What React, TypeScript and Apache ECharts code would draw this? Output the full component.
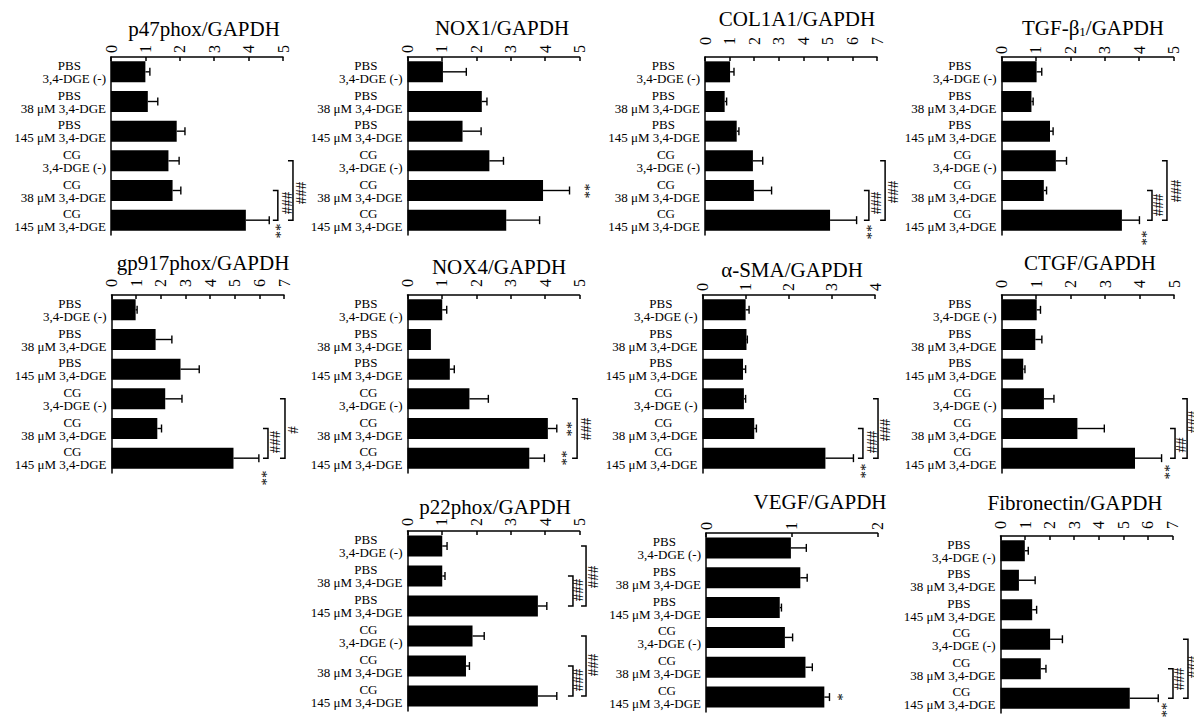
import React, { useEffect, useRef } from 'react';
import * as echarts from 'echarts';

const FONT = "'Liberation Serif', 'Times New Roman', serif";

// ---- categories ----
const groups = ['PBS', 'PBS', 'PBS', 'CG', 'CG', 'CG'];
const doses = ['3,4-DGE (-)', '38 μM 3,4-DGE', '145 μM 3,4-DGE', '3,4-DGE (-)', '38 μM 3,4-DGE', '145 μM 3,4-DGE'];
const categories = groups.map((g, i) => `${g}\n${doses[i]}`);

// ---- values (mean, SEM) ----
const p47phoxMean = [1.0, 1.07, 1.91, 1.67, 1.79, 3.92];
const p47phoxSem = [0.13, 0.29, 0.24, 0.31, 0.24, 0.68];
const nox1Mean = [1.03, 2.16, 1.6, 2.38, 3.94, 2.87];
const nox1Sem = [0.68, 0.15, 0.54, 0.41, 0.77, 0.97];
const col1a1Mean = [1.02, 0.8, 1.29, 1.95, 1.99, 5.09];
const col1a1Sem = [0.16, 0.08, 0.09, 0.4, 0.72, 1.08];
const tgfMean = [1.02, 0.87, 1.41, 1.58, 1.23, 3.5];
const tgfSem = [0.15, 0.05, 0.09, 0.31, 0.08, 0.51];
const gp917Mean = [0.98, 1.79, 2.8, 2.18, 1.86, 4.95];
const gp917Sem = [0.06, 0.66, 0.76, 0.68, 0.17, 1.03];
const nox4Mean = [1.01, 0.68, 1.23, 1.8, 4.08, 3.54];
const nox4Sem = [0.13, 0, 0.13, 0.55, 0.26, 0.44];
const asmaMean = [1.0, 1.02, 0.94, 0.96, 1.2, 2.85];
const asmaSem = [0.08, 0.02, 0.06, 0.04, 0.05, 0.65];
const ctgfMean = [1.02, 0.98, 0.63, 1.23, 2.2, 3.87];
const ctgfSem = [0.11, 0.19, 0.05, 0.29, 0.78, 0.77];
const p22phoxMean = [1.01, 1.01, 3.79, 1.89, 1.7, 3.79];
const p22phoxSem = [0.14, 0.08, 0.26, 0.34, 0.1, 0.55];
const vegfMean = [0.99, 1.1, 0.86, 0.92, 1.16, 1.38];
const vegfSem = [0.18, 0.08, 0.02, 0.09, 0.08, 0.06];
const fibroMean = [0.99, 0.75, 1.29, 2.02, 1.64, 5.26];
const fibroSem = [0.14, 0.66, 0.18, 0.5, 0.21, 1.16];

// ---- axis maxima ----
const axisMax = [5, 5, 7, 5, 7, 5, 4, 5, 5, 2, 7];

// ---- significance: brackets [x value, from category, to category] ----
const p47phoxBrackets = [[4.85, 4, 5], [5.29, 3, 5]];
const nox1Brackets: number[][] = [];
const col1a1Brackets = [[6.67, 4, 5], [7.33, 3, 5]];
const tgfBrackets = [[4.375, 4, 5], [4.81, 3, 5]];
const gp917Brackets = [[6.35, 4, 5], [7.04, 3, 5]];
const nox4Brackets = [[4.93, 3, 5]];
const asmaBrackets = [[3.72, 4, 5], [4.07, 3, 5]];
const ctgfBrackets = [[5.03, 4, 5], [5.38, 3, 5]];
const p22phoxBrackets = [[4.81, 1, 2], [5.19, 0, 2], [4.81, 4, 5], [5.19, 3, 5]];
const vegfBrackets: number[][] = [];
const fibroBrackets = [[7.02, 4, 5], [7.63, 3, 5]];

// ---- significance marks [x value, category position, text] ----
type Mark = [number, number, string];
const p47phoxMarks: Mark[] = [[4.8, 5.36, '**'], [5.12, 4.42, '###'], [5.52, 4.08, '###']];
const nox1Marks: Mark[] = [[5.16, 4.0, '**']];
const col1a1Marks: Mark[] = [[6.59, 5.4, '**'], [6.96, 4.42, '###'], [7.65, 4.05, '###']];
const tgfMarks: Mark[] = [[4.08, 5.6, '**'], [4.55, 4.49, '###'], [5.07, 4.02, '###']];
const gp917Marks: Mark[] = [[6.11, 5.67, '**'], [6.64, 4.45, '###'], [7.37, 4.05, '#']];
const nox4Marks: Mark[] = [[4.64, 4.0, '**'], [4.49, 5.0, '**'], [5.19, 4.0, '###']];
const asmaMarks: Mark[] = [[3.68, 5.43, '**'], [3.93, 4.45, '###'], [4.23, 4.05, '###']];
const ctgfMarks: Mark[] = [[4.74, 5.47, '**'], [5.2, 4.56, '##'], [5.55, 3.78, '###']];
const p22phoxMarks: Mark[] = [[4.96, 1.47, '###'], [5.39, 1.03, '###'], [4.96, 4.47, '###'], [5.39, 3.97, '###']];
const vegfMarks: Mark[] = [[1.54, 5.0, '*']];
const fibroMarks: Mark[] = [[6.57, 5.4, '**'], [7.27, 4.35, '###'], [7.83, 3.94, '###']];

const titles = ['p47phox/GAPDH', 'NOX1/GAPDH', 'COL1A1/GAPDH', 'TGF-β{s|1}/GAPDH', 'gp917phox/GAPDH', 'NOX4/GAPDH', 'α-SMA/GAPDH', 'CTGF/GAPDH', 'p22phox/GAPDH', 'VEGF/GAPDH', 'Fibronectin/GAPDH'];

const panels = [
  { mean: p47phoxMean, sem: p47phoxSem, br: p47phoxBrackets, mk: p47phoxMarks },
  { mean: nox1Mean, sem: nox1Sem, br: nox1Brackets, mk: nox1Marks },
  { mean: col1a1Mean, sem: col1a1Sem, br: col1a1Brackets, mk: col1a1Marks },
  { mean: tgfMean, sem: tgfSem, br: tgfBrackets, mk: tgfMarks },
  { mean: gp917Mean, sem: gp917Sem, br: gp917Brackets, mk: gp917Marks },
  { mean: nox4Mean, sem: nox4Sem, br: nox4Brackets, mk: nox4Marks },
  { mean: asmaMean, sem: asmaSem, br: asmaBrackets, mk: asmaMarks },
  { mean: ctgfMean, sem: ctgfSem, br: ctgfBrackets, mk: ctgfMarks },
  { mean: p22phoxMean, sem: p22phoxSem, br: p22phoxBrackets, mk: p22phoxMarks },
  { mean: vegfMean, sem: vegfSem, br: vegfBrackets, mk: vegfMarks },
  { mean: fibroMean, sem: fibroSem, br: fibroBrackets, mk: fibroMarks },
];

// ---- layout (pixels) ----
const layouts = [
  { x0: 111, x1: 283, top: 57, bottom: 235, tx: 204, ty: 29, lm: 4 },
  { x0: 407.5, x1: 579.5, top: 57, bottom: 235, tx: 502, ty: 28, lm: 4 },
  { x0: 705, x1: 877, top: 57, bottom: 235, tx: 797, ty: 19, lm: 12 },
  { x0: 1001.5, x1: 1173.5, top: 57, bottom: 235, tx: 1093, ty: 28, lm: 3 },
  { x0: 111.5, x1: 284, top: 295, bottom: 473, tx: 203, ty: 263, lm: 8 },
  { x0: 407.5, x1: 579.5, top: 295, bottom: 473, tx: 499, ty: 267, lm: 8 },
  { x0: 702.5, x1: 875, top: 295, bottom: 473, tx: 792, ty: 270, lm: 4 },
  { x0: 1001.5, x1: 1174, top: 295, bottom: 473, tx: 1090, ty: 263, lm: 7 },
  { x0: 407.5, x1: 579.5, top: 531, bottom: 711, tx: 495, ty: 507, lm: 5 },
  { x0: 706, x1: 877.5, top: 533, bottom: 712, tx: 820, ty: 502, lm: 3 },
  { x0: 1000.5, x1: 1172.5, top: 536, bottom: 713, tx: 1075, ty: 503, lm: 7 },
];

function buildOption() {
  const grid: any[] = [];
  const xAxis: any[] = [];
  const yAxis: any[] = [];
  const series: any[] = [];
  const graphic: any[] = [];
  const black = { color: '#000' };

  panels.forEach((p, i) => {
    const l = layouts[i];
    grid.push({ left: l.x0, width: l.x1 - l.x0, top: l.top, height: l.bottom - l.top });
    xAxis.push({
      gridIndex: i, type: 'value', position: 'top', min: 0, max: axisMax[i], interval: 1,
      axisLine: { show: true, lineStyle: { color: '#000', width: 1.5 } },
      axisTick: { show: true, inside: true, length: 4, lineStyle: { color: '#000', width: 1.5 } },
      axisLabel: { rotate: -90, fontSize: 16, color: '#000', fontFamily: FONT, margin: l.lm },
      splitLine: { show: false },
    });
    yAxis.push({
      gridIndex: i, type: 'category', inverse: true, data: categories,
      axisLine: { show: true, lineStyle: { color: '#000', width: 1.5 } },
      axisTick: { show: false },
      axisLabel: {
        interval: 0, margin: 5, color: '#000', fontFamily: FONT, fontSize: 13, lineHeight: 13,
        formatter: (v: string) => { const [a, b] = v.split('\n'); return `{g|${a}}\n{d|${b}}`; },
        rich: {
          g: { fontSize: 13, fontFamily: FONT, color: '#000', lineHeight: 13, padding: [0, 25, 0, 0] },
          d: { fontSize: 13, fontFamily: FONT, color: '#000', lineHeight: 13 },
        },
      },
    });
    series.push({
      type: 'bar', xAxisIndex: i, yAxisIndex: i, data: p.mean, barWidth: 21,
      itemStyle: black, silent: true,
    });
    series.push({
      type: 'custom', xAxisIndex: i, yAxisIndex: i, clip: false, silent: true,
      itemStyle: black,
      encode: { x: [0, 1], y: 2 },
      data: p.mean.map((m, k) => [m, p.sem[k], k]),
      renderItem: (params: any, api: any) => {
        const m = api.value(0), e = api.value(1), c = api.value(2);
        if (!(e > 0)) return null;
        const a = api.coord([m, c]);
        const b = api.coord([m + e, c]);
        const st = { stroke: '#000', lineWidth: 1.4 };
        return {
          type: 'group', children: [
            { type: 'line', shape: { x1: a[0], y1: a[1], x2: b[0], y2: b[1] }, style: st },
            { type: 'line', shape: { x1: b[0], y1: b[1] - 4, x2: b[0], y2: b[1] + 4 }, style: st },
          ],
        };
      },
    });
    if (p.br.length) {
      series.push({
        type: 'custom', xAxisIndex: i, yAxisIndex: i, clip: false, silent: true,
        itemStyle: black,
        encode: { x: 0, y: [1, 2] },
        data: p.br,
        renderItem: (params: any, api: any) => {
          const x = api.value(0), c1 = api.value(1), c2 = api.value(2);
          const a = api.coord([x, c1]);
          const b = api.coord([x, c2]);
          return {
            type: 'polyline',
            shape: { points: [[a[0] - 5, a[1]], [a[0], a[1]], [b[0], b[1]], [b[0] - 5, b[1]]] },
            style: { stroke: '#000', lineWidth: 1.5, fill: null },
          };
        },
      });
    }
    if (p.mk.length) {
      const marks = p.mk;
      series.push({
        type: 'custom', xAxisIndex: i, yAxisIndex: i, clip: false, silent: true,
        itemStyle: black,
        encode: { x: 0, y: 1 },
        data: marks.map((m) => [m[0], Math.floor(m[1])]),
        renderItem: (params: any, api: any) => {
          const m = marks[params.dataIndex];
          const c0 = Math.floor(m[1]);
          const frac = m[1] - c0;
          const pt = api.coord([m[0], c0]);
          const band = api.size([0, 1])[1];
          return {
            type: 'text', x: Math.round(pt[0]), y: Math.round(pt[1] + frac * band), rotation: -Math.PI / 2,
            style: {
              text: m[2], fontSize: 15, fontFamily: FONT, fill: '#000',
              align: 'center', verticalAlign: 'middle',
            },
          };
        },
      });
    }
    graphic.push({
      type: 'text', x: l.tx, y: l.ty,
      style: {
        text: titles[i], fontSize: 21, fontFamily: FONT, fill: '#000',
        align: 'center', verticalAlign: 'middle',
        rich: { s: { fontSize: 13, fontFamily: FONT, fill: '#000', padding: [7, 0, 0, 0] } },
      },
    });
  });

  return {
    animation: false,
    backgroundColor: '#fff',
    color: ['#000'],
    textStyle: { fontFamily: FONT, color: '#000' },
    grid, xAxis, yAxis, series, graphic,
  };
}

export default function App() {
  const ref = useRef<HTMLDivElement>(null);
  useEffect(() => {
    document.body.style.margin = '0';
    const chart = echarts.init(ref.current!, null, { renderer: 'svg' });
    chart.setOption(buildOption() as any);
    return () => chart.dispose();
  }, []);
  return <div ref={ref} style={{ position: 'absolute', left: 0, top: 0, width: 1194, height: 717 }} />;
}
